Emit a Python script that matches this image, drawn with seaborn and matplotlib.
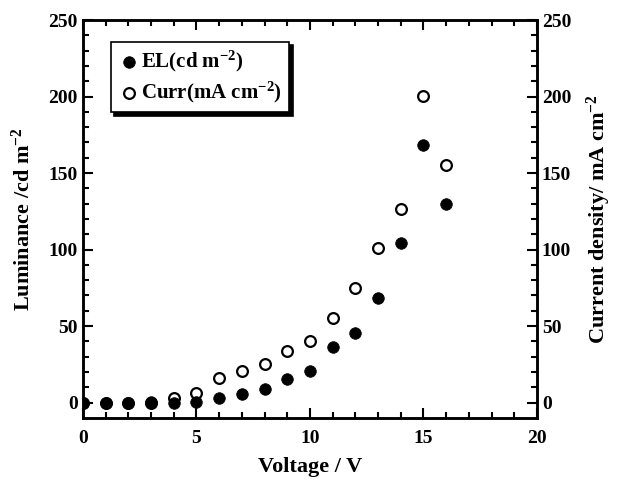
import numpy as np
import pandas as pd
import matplotlib
matplotlib.use('Agg')
import matplotlib.pyplot as plt
import seaborn as sns

voltage = [0, 1, 2, 3, 4, 5, 6, 7, 8, 9, 10, 11, 12, 13, 14, 15, 16]
el = [0, 0, 0, 0.5, 0, 0.5, 3.3, 5.9, 8.7, 15.2, 20.7, 36, 45.3, 68.2, 104.6, 168, 130]
curr = [0, 0, 0, 0, 3.3, 6, 15.9, 20.9, 25, 33.7, 40.3, 55.1, 74.7, 100.9, 126.3, 200.4, 155.3]

df = pd.DataFrame({'Voltage': voltage, 'EL': el, 'Curr': curr})

sns.set_theme(style='ticks')
plt.rcParams['font.family'] = ['Liberation Serif', 'DejaVu Serif']
plt.rcParams['font.weight'] = 'bold'
plt.rcParams['mathtext.default'] = 'regular'
plt.rcParams['axes.linewidth'] = 1.8
for k in ['text.color', 'axes.labelcolor', 'xtick.color', 'ytick.color', 'axes.edgecolor']:
    plt.rcParams[k] = 'black'

fig = plt.figure(figsize=(6.18, 4.82), dpi=100)
ax = fig.add_axes([0.134, 0.133, 0.735, 0.8255])

sns.scatterplot(data=df, x='Voltage', y='Curr', ax=ax, s=60, color='white',
                edgecolor='black', linewidth=1.6, label='Curr(mA cm$^{-2}$)', zorder=3)
sns.scatterplot(data=df, x='Voltage', y='EL', ax=ax, s=70, color='black',
                edgecolor='black', linewidth=0.5, label='EL(cd m$^{-2}$)', zorder=4)

ax.set_xlim(0, 20)
ax.set_ylim(-10, 250)
ax.set_xticks(np.arange(0, 21, 5))
ax.set_xticks(np.arange(0, 21, 1), minor=True)
ax.set_yticks(np.arange(0, 251, 50))
ax.set_yticks(np.arange(0, 251, 10), minor=True)
ax.tick_params(which='both', direction='in', top=True, width=1.5, labelsize=14)
ax.tick_params(which='major', length=7)
ax.tick_params(which='minor', length=4)
ax.tick_params(axis='x', pad=9)
ax.set_xlabel('Voltage / V', fontsize=16, fontweight='bold', labelpad=7)
ax.set_ylabel('Luminance /cd m$^{-2}$', fontsize=16, fontweight='bold', labelpad=10)

ax2 = ax.twinx()
ax2.set_ylim(-10, 250)
ax2.set_yticks(np.arange(0, 251, 50))
ax2.set_yticks(np.arange(0, 251, 10), minor=True)
ax2.tick_params(which='both', direction='in', width=1.5, labelsize=14)
ax2.tick_params(which='major', length=7)
ax2.tick_params(which='minor', length=4)
ax2.set_ylabel('Current density/ mA cm$^{-2}$', fontsize=16, fontweight='bold', labelpad=10)

for a in (ax, ax2):
    for lab in a.get_xticklabels() + a.get_yticklabels():
        lab.set_fontweight('bold')

handles, labels = ax.get_legend_handles_labels()
leg = ax.legend(handles[::-1], labels[::-1], loc='upper left', bbox_to_anchor=(0.062, 0.945),
                borderaxespad=0, frameon=True, fancybox=False, handletextpad=0.1,
                handlelength=1.0, borderpad=0.35, labelspacing=0.25,
                shadow={'color': 'black', 'alpha': 1, 'ox': 2.5, 'oy': -2.5},
                prop={'weight': 'bold', 'size': 15})
leg.get_frame().set_edgecolor('black')
leg.get_frame().set_linewidth(1.2)
leg.get_frame().set_alpha(1)

fig.savefig('out.png', dpi=100)
